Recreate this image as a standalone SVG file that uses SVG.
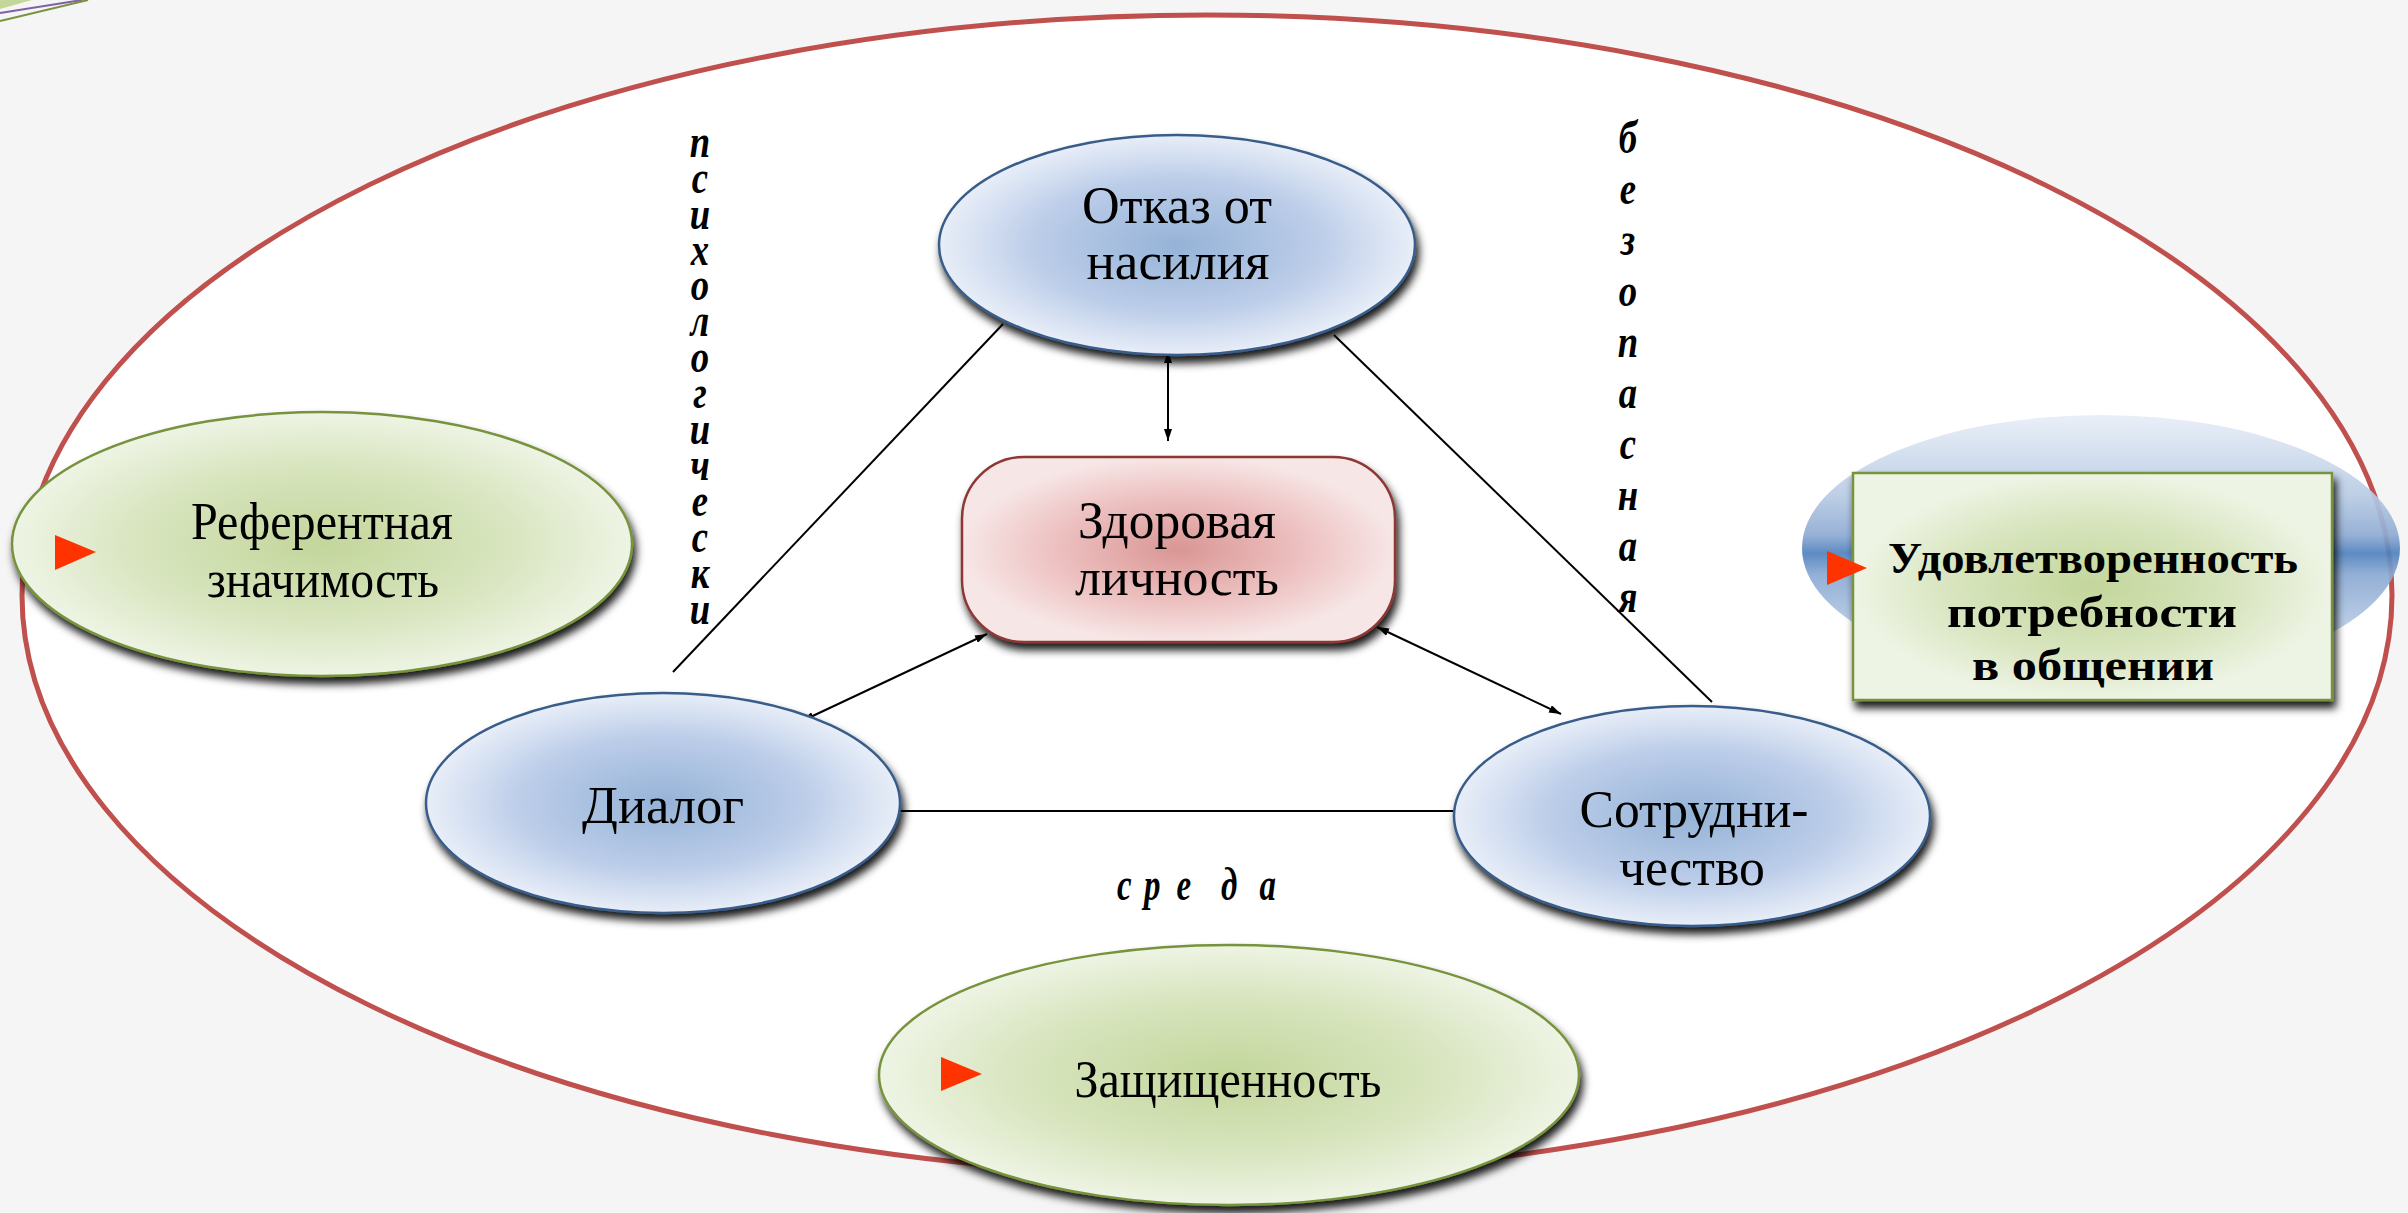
<svg xmlns="http://www.w3.org/2000/svg" width="2408" height="1213" viewBox="0 0 2408 1213">
<defs>
<style>
.t{font-family:"Liberation Serif","Times New Roman",serif;font-size:52px;fill:#000;text-anchor:middle}
.b{font-family:"Liberation Serif","Times New Roman",serif;font-size:45px;font-weight:bold;fill:#000;text-anchor:middle}
.v{font-family:"Liberation Serif","Times New Roman",serif;font-size:47px;font-weight:bold;font-style:italic;fill:#000;text-anchor:middle}
.blue{fill:url(#gBlue);stroke:#385d8a;stroke-width:2.5}
.green{fill:url(#gGreen);stroke:#77933c;stroke-width:2.5}
.pink{fill:url(#gPink);stroke:#8c3836;stroke-width:2.5}
.ln{stroke:#000;stroke-width:2;fill:none}
.tri{fill:#ff3300}
</style>
<radialGradient id="gBlue" cx="0.5" cy="0.5" r="0.5">
<stop offset="0" stop-color="#95b3d7"/>
<stop offset="0.6" stop-color="#bccde9"/>
<stop offset="1" stop-color="#e8eef8"/>
</radialGradient>
<radialGradient id="gGreen" cx="0.5" cy="0.5" r="0.5">
<stop offset="0" stop-color="#c3d69b"/>
<stop offset="0.6" stop-color="#d8e5bf"/>
<stop offset="1" stop-color="#eef4e4"/>
</radialGradient>
<radialGradient id="gPink" cx="0.5" cy="0.5" r="0.5">
<stop offset="0" stop-color="#d99694"/>
<stop offset="0.6" stop-color="#eec3c3"/>
<stop offset="1" stop-color="#f7e6e6"/>
</radialGradient>
<linearGradient id="gBand" x1="0" y1="0" x2="0" y2="1">
<stop offset="0" stop-color="#e8eef7"/>
<stop offset="0.3" stop-color="#b8cbe4"/>
<stop offset="0.45" stop-color="#8eabd3"/>
<stop offset="0.52" stop-color="#4f81bd"/>
<stop offset="0.6" stop-color="#8aa9d2"/>
<stop offset="0.85" stop-color="#c3d3e9"/>
<stop offset="1" stop-color="#dde6f2"/>
</linearGradient>
<filter id="sh" x="-10%" y="-10%" width="120%" height="130%">
<feDropShadow dx="3" dy="7" stdDeviation="4" flood-color="#000" flood-opacity="0.9"/>
</filter>
<marker id="ar" viewBox="0 0 12 8" markerWidth="12" markerHeight="8" refX="12" refY="4" orient="auto-start-reverse" markerUnits="userSpaceOnUse">
<path d="M0,0 L12,4 L0,8 z" fill="#000"/>
</marker>
</defs>

<rect width="2408" height="1213" fill="#f5f5f5"/>
<g id="corner">
<polygon points="0,0 32,0 0,9" fill="#c4d79b"/>
<line x1="0" y1="13" x2="82" y2="0" stroke="#7f5fa8" stroke-width="2"/>
<line x1="0" y1="21" x2="88" y2="0" stroke="#77933c" stroke-width="2"/>
</g>

<g id="environment">
<ellipse cx="1207" cy="595" rx="1185" ry="580" fill="#ffffff" stroke="#c0504d" stroke-width="5"/>
</g>

<g id="connectors">
<line class="ln" x1="1003" y1="324" x2="673" y2="672"/>
<line class="ln" x1="1334" y1="335" x2="1712" y2="702"/>
<line class="ln" x1="900" y1="811" x2="1456" y2="811"/>
<line class="ln" x1="1168" y1="351" x2="1168" y2="441" marker-start="url(#ar)" marker-end="url(#ar)"/>
<line class="ln" x1="987" y1="634" x2="802" y2="721" marker-start="url(#ar)" marker-end="url(#ar)"/>
<line class="ln" x1="1377" y1="627" x2="1561" y2="714" marker-start="url(#ar)" marker-end="url(#ar)"/>
</g>

<g id="label-psych" transform="translate(700,0) scale(0.78,1)">
<text class="v" x="0" y="157">п</text>
<text class="v" x="0" y="193">с</text>
<text class="v" x="0" y="229">и</text>
<text class="v" x="0" y="265">х</text>
<text class="v" x="0" y="300">о</text>
<text class="v" x="0" y="336">л</text>
<text class="v" x="0" y="372">о</text>
<text class="v" x="0" y="408">г</text>
<text class="v" x="0" y="444">и</text>
<text class="v" x="0" y="480">ч</text>
<text class="v" x="0" y="516">е</text>
<text class="v" x="0" y="552">с</text>
<text class="v" x="0" y="588">к</text>
<text class="v" x="0" y="624">и</text>
</g>

<g id="label-safe" transform="translate(1628,0) scale(0.78,1)">
<text class="v" x="0" y="153">б</text>
<text class="v" x="0" y="204">е</text>
<text class="v" x="0" y="255">з</text>
<text class="v" x="0" y="306">о</text>
<text class="v" x="0" y="357">п</text>
<text class="v" x="0" y="408">а</text>
<text class="v" x="0" y="459">с</text>
<text class="v" x="0" y="510">н</text>
<text class="v" x="0" y="561">а</text>
<text class="v" x="0" y="612">я</text>
</g>

<g id="label-sreda" transform="scale(0.7,1)">
<text class="v" x="1606 1646 1691 1756 1811" y="900">среда</text>
</g>

<g id="node-otkaz">
<ellipse class="blue" cx="1177" cy="245" rx="238" ry="110" filter="url(#sh)"/>
<text class="t" x="1177" y="223" textLength="190" lengthAdjust="spacingAndGlyphs">Отказ от</text>
<text class="t" x="1178" y="279" textLength="183" lengthAdjust="spacingAndGlyphs">насилия</text>
</g>

<g id="node-zdorovaya">
<rect class="pink" x="962" y="457" width="433" height="185" rx="62" ry="62" filter="url(#sh)"/>
<text class="t" x="1177" y="538" textLength="198" lengthAdjust="spacingAndGlyphs">Здоровая</text>
<text class="t" x="1177" y="595" textLength="204" lengthAdjust="spacingAndGlyphs">личность</text>
</g>

<g id="node-dialog">
<ellipse class="blue" cx="663" cy="803" rx="237" ry="110" filter="url(#sh)"/>
<text class="t" x="663" y="823" textLength="162" lengthAdjust="spacingAndGlyphs">Диалог</text>
</g>

<g id="node-sotr">
<ellipse class="blue" cx="1692" cy="816" rx="238" ry="110" filter="url(#sh)"/>
<text class="t" x="1694" y="827" textLength="229" lengthAdjust="spacingAndGlyphs">Сотрудни-</text>
<text class="t" x="1692" y="885" textLength="146" lengthAdjust="spacingAndGlyphs">чество</text>
</g>

<g id="node-referent">
<ellipse class="green" cx="322" cy="544" rx="310" ry="132" filter="url(#sh)"/>
<polygon class="tri" points="55,535 96,552 55,570"/>
<text class="t" x="322" y="539" textLength="262" lengthAdjust="spacingAndGlyphs">Референтная</text>
<text class="t" x="323" y="597" textLength="232" lengthAdjust="spacingAndGlyphs">значимость</text>
</g>

<g id="node-zashch">
<ellipse class="green" cx="1229" cy="1075" rx="350" ry="130" filter="url(#sh)"/>
<polygon class="tri" points="941,1057 982,1074 941,1091"/>
<text class="t" x="1228" y="1097" textLength="307" lengthAdjust="spacingAndGlyphs">Защищенность</text>
</g>

<g id="node-udovl">
<ellipse cx="2101" cy="548" rx="299" ry="133" fill="url(#gBand)" opacity="0.92"/>
<rect class="green" x="1853" y="473" width="479" height="227" filter="url(#sh)"/>
<polygon class="tri" points="1827,551 1867,568 1827,585"/>
<text class="b" x="2093" y="573" textLength="410" lengthAdjust="spacingAndGlyphs">Удовлетворенность</text>
<text class="b" x="2092" y="627" textLength="290" lengthAdjust="spacingAndGlyphs">потребности</text>
<text class="b" x="2093" y="680" textLength="242" lengthAdjust="spacingAndGlyphs">в общении</text>
</g>
</svg>
